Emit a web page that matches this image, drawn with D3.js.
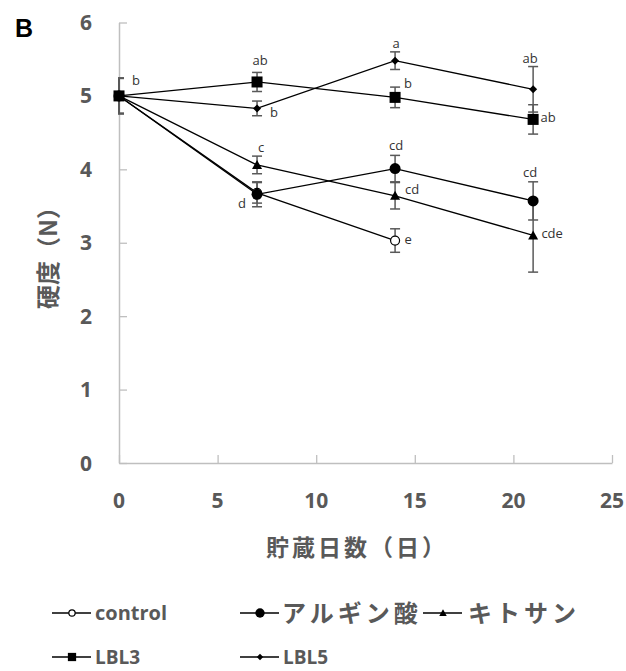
<!DOCTYPE html>
<html><head><meta charset="utf-8">
<script src="https://cdn.jsdelivr.net/npm/d3@7"></script>
<style>
body{margin:0;background:#fff;}
svg{display:block;}
</style></head>
<body>
<svg id="chart" width="626" height="671"></svg>
<script>
// ---- data ----
const days = [0, 7, 14, 21];
const seriesNames = ["control", "アルギン酸", "キトサン", "LBL3", "LBL5"];
const controlVals = [5.0, 3.68, 3.03];
const controlErr  = [0.24, 0.14, 0.16];
const alginVals   = [5.0, 3.66, 4.01, 3.57];
const alginErr    = [0.24, 0.17, 0.18, 0.26];
const chitoVals   = [5.0, 4.06, 3.64, 3.10];
const chitoErr    = [0.24, 0.12, 0.18, 0.50];
const lbl3Vals    = [5.0, 5.19, 4.98, 4.68];
const lbl3Err     = [0.24, 0.13, 0.14, 0.20];
const lbl5Vals    = [5.0, 4.83, 5.48, 5.09];
const lbl5Err     = [0.24, 0.10, 0.12, 0.31];
const controlLabels = ["", "", "e"];
const alginLabels   = ["", "d", "cd", "cd"];
const chitoLabels   = ["", "c", "cd", "cde"];
const lbl3Labels    = ["", "ab", "b", "ab"];
const lbl5Labels    = ["b", "b", "a", "ab"];
const xTicks = [0, 5, 10, 15, 20, 25];
const yTicks = [0, 1, 2, 3, 4, 5, 6];
const xTitle = "貯蔵日数（日）";
const yTitle = "硬度（N）";
const panelLetter = "B";

// ---- layout / styles ----
const svg = d3.select("#chart");
const X0 = 119, X1 = 612, Y0 = 463, Y1 = 22.5;
const x = d3.scaleLinear().domain([0, 25]).range([X0, X1]);
const y = d3.scaleLinear().domain([0, 6]).range([Y0, Y1]);
const gray = "#595959", axisCol = "#bfbfbf";
const latin = "'Open Sans','Noto Sans','Noto Sans CJK JP',sans-serif";
const cjk = "'Noto Sans CJK JP','Noto Sans',sans-serif";

// label offsets (style, not data)
const labelOff = {
  control: [null, null, [13, -1]],
  algin:   [null, [-15, 9], [1, -23], [-3, -28]],
  chito:   [null, [4, -17], [17, -6], [19, -2]],
  lbl3:    [null, [3, -22], [13, -14], [15, -2]],
  lbl5:    [[17, -15], [17, 4], [1, -17], [-3, -31]]
};

const series = [
  {key: "control", vals: controlVals, err: controlErr, labels: controlLabels, marker: "openCircle"},
  {key: "algin", vals: alginVals, err: alginErr, labels: alginLabels, marker: "circle"},
  {key: "chito", vals: chitoVals, err: chitoErr, labels: chitoLabels, marker: "triangle"},
  {key: "lbl3", vals: lbl3Vals, err: lbl3Err, labels: lbl3Labels, marker: "square"},
  {key: "lbl5", vals: lbl5Vals, err: lbl5Err, labels: lbl5Labels, marker: "diamond"}
];

// axes
const yAxis = d3.axisLeft(y).tickValues(yTicks).tickSize(-8).tickSizeOuter(0).tickFormat("");
const gy = svg.append("g").attr("transform", `translate(${X0},0)`).call(yAxis);
gy.select(".domain").attr("stroke", axisCol).attr("stroke-width", 1.5);
gy.selectAll(".tick line").attr("stroke", axisCol).attr("stroke-width", 1.3);

const xAxis = d3.axisBottom(x).tickValues(xTicks).tickSize(-8).tickSizeOuter(0).tickFormat("");
const gx = svg.append("g").attr("transform", `translate(0,${Y0})`).call(xAxis);
gx.select(".domain").attr("stroke", axisCol).attr("stroke-width", 1.5);
gx.selectAll(".tick line").attr("stroke", axisCol).attr("stroke-width", 1.3);

// tick labels
svg.append("g").selectAll("text").data(yTicks).join("text")
  .attr("x", 86).attr("y", d => y(d)).attr("dy", "0.36em")
  .attr("text-anchor", "middle").attr("font-family", latin).attr("font-weight", "bold")
  .attr("font-size", 21).attr("fill", gray).text(d => d);
svg.append("g").selectAll("text").data(xTicks).join("text")
  .attr("x", d => x(d)).attr("y", 500).attr("dy", "0.36em")
  .attr("text-anchor", "middle").attr("font-family", latin).attr("font-weight", "bold")
  .attr("font-size", 21).attr("fill", gray).text(d => d);

// titles
svg.append("text").attr("x", 357).attr("y", 548).attr("dy", "0.36em")
  .attr("text-anchor", "middle").attr("font-family", cjk).attr("font-weight", "bold")
  .attr("font-size", 23).attr("letter-spacing", 3).attr("fill", gray).text(xTitle);
svg.append("text").attr("transform", "translate(48,252) rotate(-90)").attr("dy", "0.36em")
  .attr("text-anchor", "middle").attr("font-family", cjk).attr("font-weight", "bold")
  .attr("font-size", 24).attr("fill", gray).text(yTitle);
svg.append("text").attr("x", 24).attr("y", 28).attr("dy", "0.36em")
  .attr("text-anchor", "middle").attr("font-family", "'Liberation Sans',Arial,sans-serif").attr("font-weight", "bold")
  .attr("font-size", 25).attr("fill", "#000").text(panelLetter);

// marker drawing
function drawMarker(g, type, cx, cy, scale) {
  scale = scale || 1;
  if (type === "openCircle") {
    g.append("circle").attr("cx", cx).attr("cy", cy).attr("r", 4.5 * scale)
      .attr("fill", "#fff").attr("stroke", "#000").attr("stroke-width", 1.2);
  } else if (type === "circle") {
    g.append("circle").attr("cx", cx).attr("cy", cy).attr("r", 5.5 * scale).attr("fill", "#000");
  } else if (type === "triangle") {
    const s = 5 * scale;
    g.append("path").attr("d", `M${cx},${cy - s}L${cx + s},${cy + s * 0.8}L${cx - s},${cy + s * 0.8}Z`).attr("fill", "#000");
  } else if (type === "square") {
    const s = 5.5 * scale;
    g.append("rect").attr("x", cx - s).attr("y", cy - s).attr("width", 2 * s).attr("height", 2 * s).attr("fill", "#000");
  } else if (type === "diamond") {
    const s = 4 * scale;
    g.append("path").attr("d", `M${cx},${cy - s}L${cx + s},${cy}L${cx},${cy + s}L${cx - s},${cy}Z`).attr("fill", "#000");
  }
}

// clip for plot area
svg.append("clipPath").attr("id", "plotclip").append("rect")
  .attr("x", X0 - 1).attr("y", 0).attr("width", X1 - X0 + 10).attr("height", Y0);

// error bars
const errG = svg.append("g").attr("clip-path", "url(#plotclip)");
series.forEach(s => {
  s.vals.forEach((v, i) => {
    const cx = x(days[i]), e = s.err[i];
    const top = y(v + e), bot = y(v - e);
    errG.append("line").attr("x1", cx).attr("x2", cx).attr("y1", top).attr("y2", bot)
      .attr("stroke", gray).attr("stroke-width", 1.5);
    [top, bot].forEach(yy => errG.append("line").attr("x1", cx - 5).attr("x2", cx + 5)
      .attr("y1", yy).attr("y2", yy).attr("stroke", gray).attr("stroke-width", 1.5));
  });
});

// lines
const lineGen = d3.line().x(d => x(d[0])).y(d => y(d[1]));
series.forEach(s => {
  svg.append("path").datum(s.vals.map((v, i) => [days[i], v]))
    .attr("d", lineGen).attr("fill", "none").attr("stroke", "#000").attr("stroke-width", 1.3);
});

// markers
series.forEach(s => {
  const g = svg.append("g");
  s.vals.forEach((v, i) => drawMarker(g, s.marker, x(days[i]), y(v)));
});

// data labels
series.forEach(s => {
  s.labels.forEach((t, i) => {
    if (!t) return;
    const o = labelOff[s.key][i];
    svg.append("text").attr("x", x(days[i]) + o[0]).attr("y", y(s.vals[i]) + o[1]).attr("dy", "0.35em")
      .attr("text-anchor", "middle").attr("font-family", latin).attr("font-size", 13)
      .attr("fill", "#333333").text(t);
  });
});

// legend
const legendPos = [
  {lx: 52, tx: 95, y: 613, fs: 20, ls: 0, font: latin},
  {lx: 240, tx: 282, y: 613, fs: 24, ls: 4, font: cjk},
  {lx: 423, tx: 468, y: 613, fs: 24, ls: 4, font: cjk},
  {lx: 52, tx: 95, y: 657, fs: 19, ls: 0, font: latin},
  {lx: 240, tx: 283, y: 657, fs: 19, ls: 0, font: latin}
];
const legendMarkerScale = [0.7, 0.85, 0.75, 0.75, 0.8];
series.forEach((s, i) => {
  const p = legendPos[i];
  const g = svg.append("g");
  g.append("line").attr("x1", p.lx).attr("x2", p.lx + 39).attr("y1", p.y).attr("y2", p.y)
    .attr("stroke", "#000").attr("stroke-width", 1.3);
  drawMarker(g, s.marker, p.lx + 20, p.y, legendMarkerScale[i]);
  g.append("text").attr("x", p.tx).attr("y", p.y).attr("dy", "0.36em")
    .attr("font-family", p.font).attr("font-weight", "bold").attr("font-size", p.fs)
    .attr("letter-spacing", p.ls).attr("fill", gray).text(seriesNames[i]);
});
</script>
</body></html>
